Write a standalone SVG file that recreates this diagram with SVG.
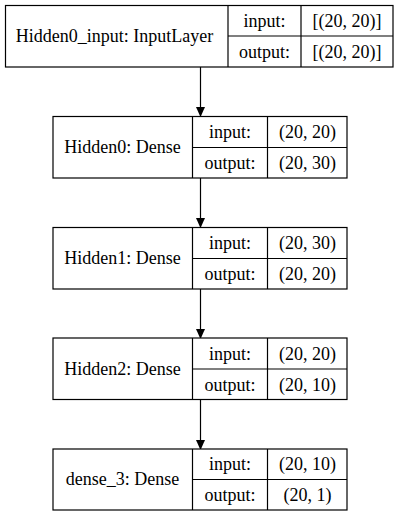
<svg xmlns="http://www.w3.org/2000/svg" width="400" height="516" viewBox="0 0 400 516">
<style>
.box{fill:#fff;stroke:#000;stroke-width:1.2}
.ln{stroke:#000;stroke-width:1.2;fill:none}
text{font-size:18px;fill:#000;text-anchor:middle}
.edge{stroke:#000;stroke-width:1.2;fill:none}
</style>
<defs>
<marker id="ah" markerWidth="10" markerHeight="13" refX="9" refY="4.5" orient="auto" markerUnits="userSpaceOnUse" viewBox="0 0 10 9">
<path d="M0,0 L10,4.5 L0,9 Z" fill="#000"/>
</marker>
</defs>
<rect width="400" height="516" fill="#fff"/>
<g id="connectors">
<line class="edge" x1="200.5" y1="67" x2="200.5" y2="116" marker-end="url(#ah)"/>
<line class="edge" x1="200.5" y1="178" x2="200.5" y2="227" marker-end="url(#ah)"/>
<line class="edge" x1="200.5" y1="289" x2="200.5" y2="338" marker-end="url(#ah)"/>
<line class="edge" x1="200.5" y1="399.5" x2="200.5" y2="449" marker-end="url(#ah)"/>
</g>
<g font-family="'Liberation Serif', 'Times New Roman', 'DejaVu Serif', serif">
<g id="Hidden0_input">
<rect class="box" x="5.5" y="5.5" width="387.5" height="61.5"/>
<line class="ln" x1="228" y1="5.5" x2="228" y2="67"/>
<line class="ln" x1="301" y1="5.5" x2="301" y2="67"/>
<line class="ln" x1="228" y1="36" x2="393" y2="36"/>
<text x="114.5" y="42">Hidden0_input: InputLayer</text>
<text x="264.5" y="26.5">input:</text>
<text x="347" y="26.5">[(20, 20)]</text>
<text x="264.5" y="57.5">output:</text>
<text x="347" y="57.5">[(20, 20)]</text>
</g>
<g id="Hidden0">
<rect class="box" x="53" y="116.5" width="294" height="61.5"/>
<line class="ln" x1="192.5" y1="116.5" x2="192.5" y2="178"/>
<line class="ln" x1="267.5" y1="116.5" x2="267.5" y2="178"/>
<line class="ln" x1="192.5" y1="147.5" x2="347" y2="147.5"/>
<text x="122.5" y="153">Hidden0: Dense</text>
<text x="230" y="138">input:</text>
<text x="307.5" y="138">(20, 20)</text>
<text x="230" y="169">output:</text>
<text x="307.5" y="169">(20, 30)</text>
</g>
<g id="Hidden1">
<rect class="box" x="53" y="227.5" width="294" height="61.5"/>
<line class="ln" x1="192.5" y1="227.5" x2="192.5" y2="289"/>
<line class="ln" x1="267.5" y1="227.5" x2="267.5" y2="289"/>
<line class="ln" x1="192.5" y1="258.5" x2="347" y2="258.5"/>
<text x="122.5" y="264">Hidden1: Dense</text>
<text x="230" y="249">input:</text>
<text x="307.5" y="249">(20, 30)</text>
<text x="230" y="280">output:</text>
<text x="307.5" y="280">(20, 20)</text>
</g>
<g id="Hidden2">
<rect class="box" x="53" y="338" width="294" height="61.5"/>
<line class="ln" x1="192.5" y1="338" x2="192.5" y2="399.5"/>
<line class="ln" x1="267.5" y1="338" x2="267.5" y2="399.5"/>
<line class="ln" x1="192.5" y1="369" x2="347" y2="369"/>
<text x="122.5" y="374.5">Hidden2: Dense</text>
<text x="230" y="359.5">input:</text>
<text x="307.5" y="359.5">(20, 20)</text>
<text x="230" y="390.5">output:</text>
<text x="307.5" y="390.5">(20, 10)</text>
</g>
<g id="dense_3">
<rect class="box" x="53" y="449" width="294" height="61"/>
<line class="ln" x1="192.5" y1="449" x2="192.5" y2="510"/>
<line class="ln" x1="267.5" y1="449" x2="267.5" y2="510"/>
<line class="ln" x1="192.5" y1="479.5" x2="347" y2="479.5"/>
<text x="122.5" y="485">dense_3: Dense</text>
<text x="230" y="470">input:</text>
<text x="307.5" y="470">(20, 10)</text>
<text x="230" y="501">output:</text>
<text x="307.5" y="501">(20, 1)</text>
</g>
</g>
</svg>
